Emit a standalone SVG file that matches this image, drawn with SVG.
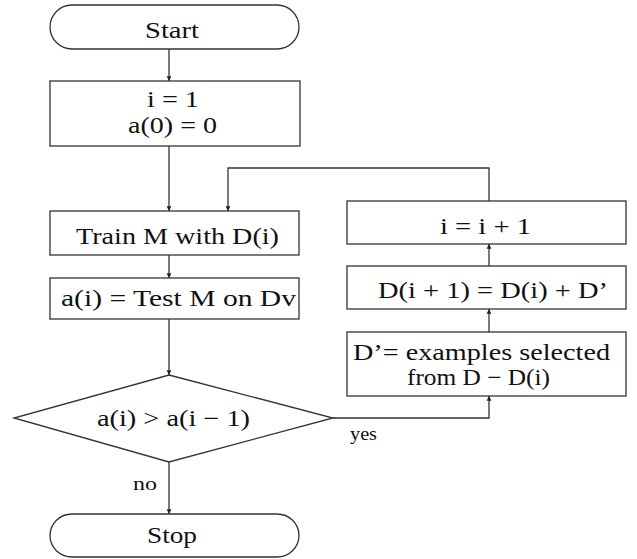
<svg xmlns="http://www.w3.org/2000/svg" width="637" height="559" viewBox="0 0 637 559">
<style>
.shape{fill:#fff;stroke:#333;stroke-width:1.3}
.line{fill:none;stroke:#333;stroke-width:1.3}
text{font-family:"Liberation Serif","Times New Roman",serif;font-size:23px;fill:#111}
.lbl{font-size:18px}
</style>
<defs>
<marker id="arr" viewBox="0 0 8 10" refX="8" refY="5" markerWidth="5" markerHeight="6" markerUnits="userSpaceOnUse" orient="auto">
<path d="M0,1 L8,5 L0,9 Z" fill="#222"/>
</marker>
</defs>
<rect width="637" height="559" fill="#fff"/>
<g id="connectors">
<line class="line" x1="169" y1="49" x2="169" y2="81" marker-end="url(#arr)"/>
<line class="line" x1="169" y1="146" x2="169" y2="211" marker-end="url(#arr)"/>
<line class="line" x1="169" y1="255" x2="169" y2="278" marker-end="url(#arr)"/>
<line class="line" x1="169" y1="319" x2="169" y2="375" marker-end="url(#arr)"/>
<line class="line" x1="169" y1="462" x2="169" y2="514" marker-end="url(#arr)"/>
<polyline class="line" points="333,418 489,418 489,396" marker-end="url(#arr)"/>
<line class="line" x1="489" y1="332" x2="489" y2="309" marker-end="url(#arr)"/>
<line class="line" x1="489" y1="266" x2="489" y2="244" marker-end="url(#arr)"/>
<polyline class="line" points="489,201 489,168 228,168 228,211" marker-end="url(#arr)"/>
<text class="lbl" x="133" y="490" textLength="24" lengthAdjust="spacingAndGlyphs">no</text>
<text class="lbl" x="350" y="440" textLength="27" lengthAdjust="spacingAndGlyphs">yes</text>
</g>
<g id="start">
<rect class="shape" x="50" y="5" width="249" height="44" rx="22" ry="22"/>
<text x="145" y="38" textLength="54" lengthAdjust="spacingAndGlyphs">Start</text>
</g>
<g id="init">
<rect class="shape" x="50" y="81" width="250" height="65"/>
<text x="147" y="107" textLength="52" lengthAdjust="spacingAndGlyphs">i = 1</text>
<text x="128" y="133" textLength="89" lengthAdjust="spacingAndGlyphs">a(0) = 0</text>
</g>
<g id="train">
<rect class="shape" x="50" y="211" width="249" height="44"/>
<text x="76" y="244" textLength="203" lengthAdjust="spacingAndGlyphs">Train M with D(i)</text>
</g>
<g id="test">
<rect class="shape" x="50" y="278" width="249" height="41"/>
<text x="61" y="306" textLength="235" lengthAdjust="spacingAndGlyphs">a(i) = Test M on Dv</text>
</g>
<g id="decision">
<polygon class="shape" points="169,375 333,418 169,462 14,418"/>
<text x="97" y="426" textLength="153" lengthAdjust="spacingAndGlyphs">a(i) &gt; a(i − 1)</text>
</g>
<g id="stop">
<rect class="shape" x="50" y="514" width="249" height="43" rx="22" ry="21.5"/>
<text x="147" y="543" textLength="50" lengthAdjust="spacingAndGlyphs">Stop</text>
</g>
<g id="increment">
<rect class="shape" x="347" y="201" width="279" height="43"/>
<text x="440" y="234" textLength="91" lengthAdjust="spacingAndGlyphs">i = i + 1</text>
</g>
<g id="update">
<rect class="shape" x="347" y="266" width="279" height="43"/>
<text x="378" y="298" textLength="230" lengthAdjust="spacingAndGlyphs">D(i + 1) = D(i) + D’</text>
</g>
<g id="select">
<rect class="shape" x="347" y="332" width="279" height="64"/>
<text x="353" y="360" textLength="257" lengthAdjust="spacingAndGlyphs">D’= examples selected</text>
<text x="407" y="385" textLength="143" lengthAdjust="spacingAndGlyphs">from D − D(i)</text>
</g>
</svg>
